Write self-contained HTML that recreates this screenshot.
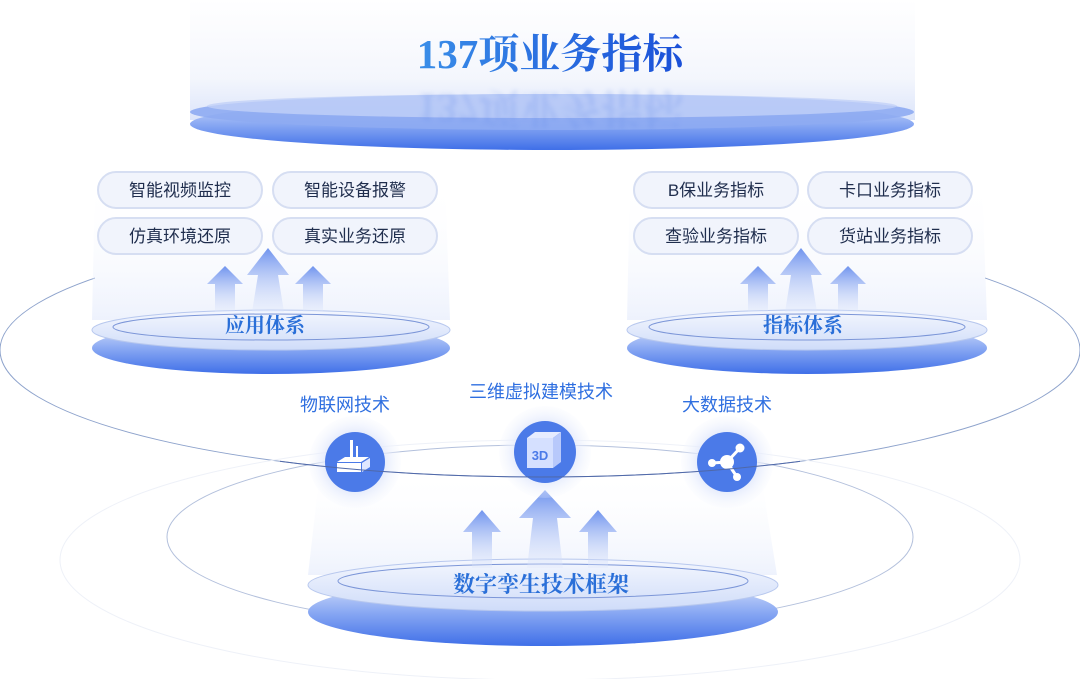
<!DOCTYPE html>
<html><head><meta charset="utf-8"><style>
html,body{margin:0;padding:0;background:#fff;width:1080px;height:679px;overflow:hidden}
svg{display:block}
.pill{font-family:"Liberation Sans","Noto Sans CJK SC",sans-serif;font-size:17px;fill:#1f2d4d}
.lbl{font-family:"Liberation Sans","Noto Sans CJK SC",sans-serif;font-size:18px;fill:#2f6fe0}
.ser{font-family:"Liberation Serif","Noto Serif CJK SC",serif;font-weight:bold}
</style></head><body>
<svg width="1080" height="679" viewBox="0 0 1080 679" xmlns="http://www.w3.org/2000/svg">
<defs>
<linearGradient id="side" x1="0" y1="0" x2="0" y2="1">
<stop offset="0" stop-color="#dfe7fb"/><stop offset="0.5" stop-color="#8aa9f3"/><stop offset="1" stop-color="#3f6fe8"/></linearGradient>
<linearGradient id="top" x1="0" y1="0" x2="0" y2="1">
<stop offset="0" stop-color="#f4f7fe"/><stop offset="1" stop-color="#cfdcf9"/></linearGradient>
<linearGradient id="beam" x1="0" y1="0" x2="0" y2="1">
<stop offset="0" stop-color="#fff" stop-opacity="0"/><stop offset="1" stop-color="#dbe4fa" stop-opacity="0.8"/></linearGradient>
<linearGradient id="arr" x1="0" y1="0" x2="0" y2="1">
<stop offset="0" stop-color="#6f93ee"/><stop offset="1" stop-color="#dfe7fb" stop-opacity="0.3"/></linearGradient>
<linearGradient id="ttl" x1="0" y1="0" x2="1" y2="0">
<stop offset="0" stop-color="#3a8ee8"/><stop offset="1" stop-color="#1a4fd8"/></linearGradient>
<linearGradient id="topbeam" x1="0" y1="0" x2="0" y2="1">
<stop offset="0" stop-color="#fff"/><stop offset="0.65" stop-color="#f1f4fc"/><stop offset="1" stop-color="#d3def9"/></linearGradient>
<radialGradient id="halo"><stop offset="0.55" stop-color="#dde5fb"/><stop offset="1" stop-color="#f3f6fe" stop-opacity="0.2"/></radialGradient>
<filter id="bl"><feGaussianBlur stdDeviation="2.5"/></filter>
<mask id="m1"><rect width="1080" height="679" fill="#fff"/><rect x="95" y="0" width="890" height="300" fill="#000"/><rect x="260" y="300" width="560" height="95" fill="#000"/></mask>
<mask id="m2"><rect x="280" y="430" width="520" height="60" fill="#fff"/></mask>
</defs>

<!-- orbit ellipses -->
<ellipse cx="540" cy="350" rx="540" ry="127" fill="none" stroke="#8ea3cc" stroke-width="1" mask="url(#m1)"/>
<ellipse cx="540" cy="537" rx="373" ry="92" fill="none" stroke="#b3c0dc" stroke-width="1"/>
<ellipse cx="540" cy="560" rx="480" ry="120" fill="none" stroke="#eef1f8" stroke-width="1"/>

<!-- top platform -->
<path d="M190 0 L915 0 L915 120 L190 120 Z" fill="url(#topbeam)" opacity="0.8"/>
<ellipse cx="552" cy="124" rx="362" ry="26" fill="url(#side)"/>
<ellipse cx="552" cy="112" rx="362" ry="18" fill="#8eabf2" opacity="0.9"/>
<ellipse cx="552" cy="106" rx="345" ry="12" fill="#c2d1f7" opacity="0.8"/>
<text x="550" y="68" text-anchor="middle" class="ser" font-size="41" fill="url(#ttl)">137项业务指标</text>
<text x="550" y="70" text-anchor="middle" class="ser" font-size="41" fill="#5e86e8" opacity="0.2" filter="url(#bl)" transform="translate(0,164) scale(1,-1)">137项业务指标</text>

<!-- left group -->
<path d="M95 180 L445 180 L450 320 L92 320 Z" fill="url(#beam)" opacity="0.6"/>
<ellipse cx="271" cy="348" rx="179" ry="26" fill="url(#side)"/>
<ellipse cx="271" cy="330" rx="179" ry="20" fill="url(#top)" stroke="#b8c8ee"/>
<ellipse cx="271" cy="327" rx="158" ry="13" fill="none" stroke="#7c96d8" stroke-width="1"/>
<g fill="url(#arr)">
<path d="M215 312 L215 284 L207 284 L225 266 L243 284 L235 284 L235 312 Z"/>
<path d="M303 312 L303 284 L295 284 L313 266 L331 284 L323 284 L323 312 Z"/>
<path d="M252 312 L258 275 L247 275 L268 248 L289 275 L278 275 L284 312 Z"/>
</g>
<text x="265" y="332" text-anchor="middle" class="ser" font-size="20" fill="#2a6fd8">应用体系</text>
<g fill="#f1f4fc" stroke="#d6def2" stroke-width="2">
<rect x="98" y="172" width="164" height="36" rx="18"/><rect x="273" y="172" width="164" height="36" rx="18"/>
<rect x="98" y="218" width="164" height="36" rx="18"/><rect x="273" y="218" width="164" height="36" rx="18"/>
</g>
<text x="180" y="196" text-anchor="middle" class="pill">智能视频监控</text>
<text x="355" y="196" text-anchor="middle" class="pill">智能设备报警</text>
<text x="180" y="242" text-anchor="middle" class="pill">仿真环境还原</text>
<text x="355" y="242" text-anchor="middle" class="pill">真实业务还原</text>

<!-- right group -->
<path d="M630 180 L982 180 L987 320 L627 320 Z" fill="url(#beam)" opacity="0.6"/>
<ellipse cx="807" cy="348" rx="180" ry="26" fill="url(#side)"/>
<ellipse cx="807" cy="330" rx="180" ry="20" fill="url(#top)" stroke="#b8c8ee"/>
<ellipse cx="807" cy="327" rx="158" ry="13" fill="none" stroke="#7c96d8" stroke-width="1"/>
<g fill="url(#arr)">
<path d="M748 312 L748 284 L740 284 L758 266 L776 284 L768 284 L768 312 Z"/>
<path d="M838 312 L838 284 L830 284 L848 266 L866 284 L858 284 L858 312 Z"/>
<path d="M785 312 L791 275 L780 275 L801 248 L822 275 L811 275 L817 312 Z"/>
</g>
<text x="803" y="332" text-anchor="middle" class="ser" font-size="20" fill="#2a6fd8">指标体系</text>
<g fill="#f1f4fc" stroke="#d6def2" stroke-width="2">
<rect x="634" y="172" width="164" height="36" rx="18"/><rect x="808" y="172" width="164" height="36" rx="18"/>
<rect x="634" y="218" width="164" height="36" rx="18"/><rect x="808" y="218" width="164" height="36" rx="18"/>
</g>
<text x="716" y="196" text-anchor="middle" class="pill">B保业务指标</text>
<text x="890" y="196" text-anchor="middle" class="pill">卡口业务指标</text>
<text x="716" y="242" text-anchor="middle" class="pill">查验业务指标</text>
<text x="890" y="242" text-anchor="middle" class="pill">货站业务指标</text>

<!-- bottom platform -->
<path d="M320 470 L760 470 L777 575 L308 575 Z" fill="url(#beam)" opacity="0.6"/>
<ellipse cx="543" cy="612" rx="235" ry="34" fill="url(#side)"/>
<ellipse cx="543" cy="585" rx="235" ry="26" fill="url(#top)" stroke="#b8c8ee"/>
<ellipse cx="543" cy="581" rx="205" ry="17" fill="none" stroke="#7c96d8" stroke-width="1"/>
<g fill="url(#arr)">
<path d="M472 568 L472 532 L463 532 L482 510 L501 532 L492 532 L492 568 Z"/>
<path d="M588 568 L588 532 L579 532 L598 510 L617 532 L608 532 L608 568 Z"/>
<path d="M527 568 L533 518 L519 518 L545 490 L571 518 L557 518 L563 568 Z"/>
</g>
<text x="541" y="592" text-anchor="middle" class="ser" font-size="22" fill="#2a6fd8">数字孪生技术框架</text>

<!-- icons -->
<g>
<circle cx="355" cy="462" r="46" fill="url(#halo)"/>
<circle cx="355" cy="462" r="30" fill="#4b7ae8"/>
<path d="M350 440 h3 v18 h-3z M356 446 h2 v12 h-2z" fill="#fff"/>
<path d="M337 462 l8 -5 h24 l-8 5z" fill="#fff"/>
<path d="M337 463 h24 v9 h-24z" fill="#fff"/>
<path d="M362 463 l8 -5 v9 l-8 5z" fill="#dfe7ff"/>
<circle cx="545" cy="452" r="46" fill="url(#halo)"/>
<circle cx="545" cy="452" r="31" fill="#4b7ae8"/>
<path d="M527 438 l8 -6 h26 l-8 6z" fill="#e6ecff"/>
<rect x="527" y="438" width="26" height="30" fill="#d5e0ff"/>
<path d="M553 438 l8 -6 v30 l-8 6z" fill="#b8c9fb"/>
<text x="540" y="460" text-anchor="middle" font-family="Liberation Sans" font-size="13" fill="#4b7ae8" font-weight="bold">3D</text>
<circle cx="727" cy="462" r="46" fill="url(#halo)"/>
<circle cx="727" cy="462" r="30" fill="#4b7ae8"/>
<g stroke="#fff" stroke-width="3"><line x1="727" y1="462" x2="740" y2="448"/><line x1="727" y1="462" x2="712" y2="463"/><line x1="727" y1="462" x2="737" y2="477"/></g>
<g fill="#fff"><circle cx="727" cy="462" r="7"/><circle cx="740" cy="448" r="4.5"/><circle cx="712" cy="463" r="4"/><circle cx="737" cy="477" r="4"/></g>
</g>
<ellipse cx="540" cy="350" rx="540" ry="127" fill="none" stroke="#4f68a8" stroke-width="1" mask="url(#m2)"/>
<text x="345" y="411" text-anchor="middle" class="lbl">物联网技术</text>
<text x="541" y="398" text-anchor="middle" class="lbl">三维虚拟建模技术</text>
<text x="727" y="411" text-anchor="middle" class="lbl">大数据技术</text>
</svg>
</body></html>
